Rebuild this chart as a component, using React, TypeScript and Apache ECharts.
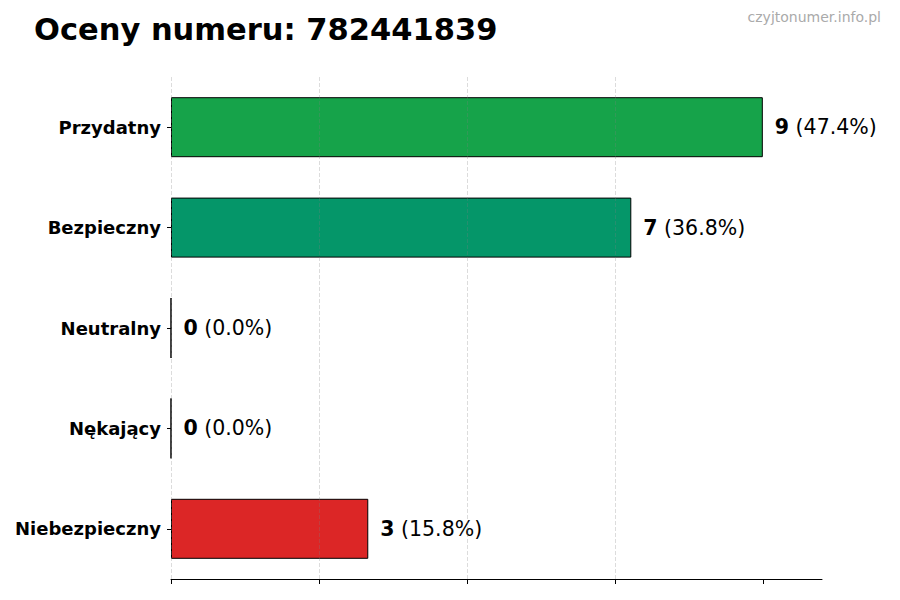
import { useEffect, useRef } from 'react'
import * as echarts from 'echarts'

const categories = ['Przydatny', 'Bezpieczny', 'Neutralny', 'Nękający', 'Niebezpieczny']
const counts = [9, 7, 0, 0, 3]
const barColors = ['#16a34a', '#059669', '#6b7280', '#ea580c', '#dc2626']
const xTicks = [0, 2.25, 4.5, 6.75, 9]

const TITLE = 'Oceny numeru: 782441839'
const WATERMARK = 'czyjtonumer.info.pl'
const FONT = '"DejaVu Sans", sans-serif'

export default function App() {
  const ref = useRef<HTMLDivElement>(null)

  useEffect(() => {
    document.body.style.margin = '0'
    if (!ref.current) return
    const chart = echarts.init(ref.current, undefined, { renderer: 'svg' })
    const total = counts.reduce((a, b) => a + b, 0)
    const maxVal = Math.max(...counts)

    const option: echarts.EChartsOption = {
      animation: false,
      backgroundColor: '#ffffff',
      title: {
        text: TITLE,
        left: 29,
        top: 9,
        textStyle: { fontFamily: FONT, fontSize: 30.5, fontWeight: 'bold', color: '#000' },
      },
      graphic: [
        {
          type: 'text',
          right: 19,
          top: 10,
          style: { text: WATERMARK, fontFamily: FONT, fontSize: 14, fill: '#aaaaaa' },
        },
      ],
      grid: { left: 171, right: 78, top: 77, bottom: 21, containLabel: false },
      xAxis: {
        type: 'value',
        min: 0,
        max: maxVal * 1.1,
        interval: 2.25,
        z: 3,
        axisLabel: { show: false },
        axisLine: { show: true, lineStyle: { color: '#000', width: 1 } },
        axisTick: { show: true, length: 5, lineStyle: { color: '#000' }, customValues: xTicks },
        splitLine: {
          show: true,
          showMaxLine: false,
          lineStyle: { color: 'rgba(128,128,128,0.35)', type: [4, 2], width: 0.8 },
        },
      },
      yAxis: {
        type: 'category',
        data: categories,
        inverse: true,
        axisLine: { show: false },
        axisTick: { show: true, length: 4, alignWithLabel: true, lineStyle: { color: '#000' } },
        axisLabel: {
          margin: 10,
          fontFamily: FONT,
          fontSize: 18,
          fontWeight: 'bold',
          color: '#000',
        },
        splitLine: { show: false },
      },
      series: [
        {
          type: 'bar',
          barWidth: 60,
          data: counts.map((v, i) => ({
            value: v,
            itemStyle: { color: barColors[i], borderColor: '#000', borderWidth: 1 },
          })),
          label: {
            show: true,
            position: 'right',
            distance: 12,
            formatter: (p: any) => {
              const pct = total ? ((p.value / total) * 100).toFixed(1) : '0.0'
              return `{b|${p.value}}{n| (${pct}%)}`
            },
            rich: {
              b: { fontFamily: FONT, fontSize: 20.5, fontWeight: 'bold', color: '#000' },
              n: { fontFamily: FONT, fontSize: 20.5, color: '#000' },
            },
          },
        },
      ],
    }

    chart.setOption(option)
    return () => chart.dispose()
  }, [])

  return <div ref={ref} style={{ width: 900, height: 600 }} />
}
